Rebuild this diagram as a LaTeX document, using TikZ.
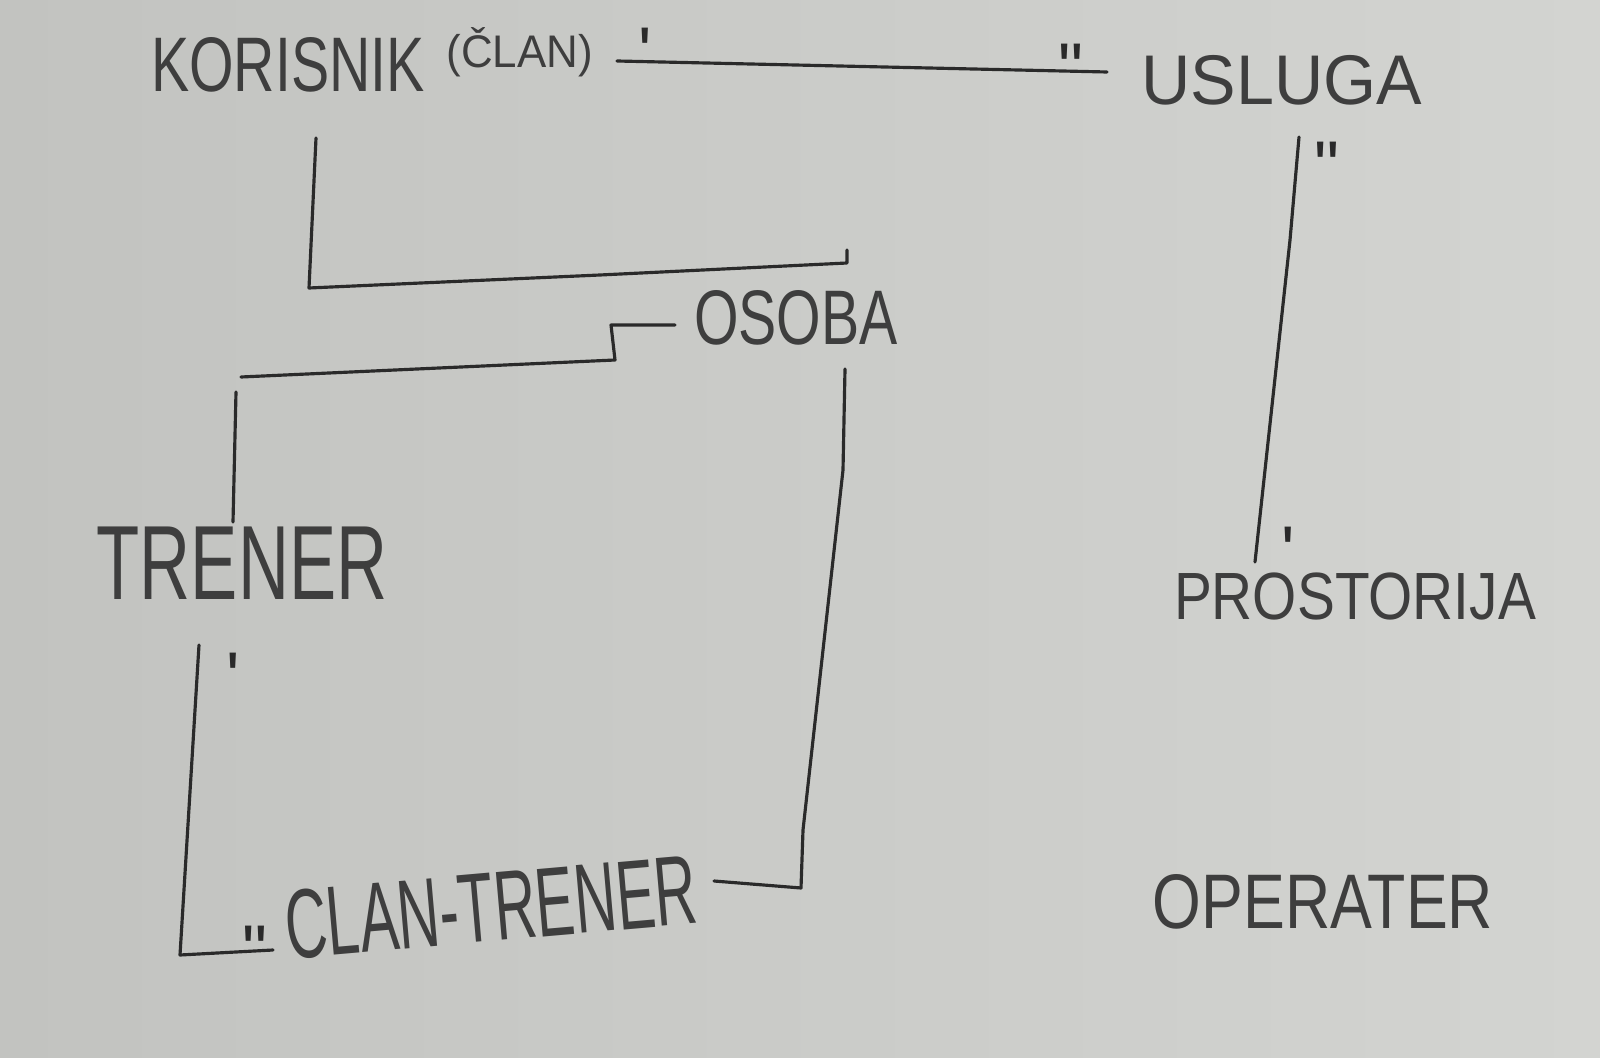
\documentclass[tikz,border=0pt]{standalone}
\usepackage{fontspec}
\usepackage{graphicx}
\setmainfont{Liberation Sans}
\newfontfamily\markfont{Liberation Sans}

\definecolor{paperL}{RGB}{194,195,192}
\definecolor{paperR}{RGB}{211,212,209}
\definecolor{ink}{RGB}{42,42,42}
\definecolor{pen}{RGB}{62,62,62}

\newcommand{\hw}[2]{\scalebox{#1}[1]{#2}}
\newcommand{\mk}[1]{\raisebox{-0.47em}[0.27em][0pt]{#1}}

\tikzset{
	entity/.style={anchor=base, inner sep=0pt, text=pen, font=\fontsize{22}{22}\selectfont},
	tick/.style={inner sep=0pt, text=ink, font=\markfont\fontsize{20}{20}\selectfont},
	link/.style={draw=ink, line width=0.9pt, line join=round, line cap=round}
}

\begin{document}
\begin{tikzpicture}[x=0.01cm, y=-0.01cm]
	\shade[left color=paperL, right color=paperR] (0,0) rectangle (1600,1058);
	\useasboundingbox (0,0) rectangle (1600,1058);

	% entities
	\node[entity] (korisnik) at (372,92) {\hw{0.74}{KORISNIK}\hspace{0.22cm}\raisebox{0.24cm}{\fontsize{13}{13}\selectfont\hw{0.96}{(ČLAN)}}};
	\node[entity, font=\fontsize{20}{20}\selectfont] (usluga) at (1282,105) {\hw{0.97}{USLUGA}};
	\node[entity] (osoba) at (796,345) {\hw{0.74}{OSOBA}};
	\node[entity, font=\fontsize{30}{30}\selectfont] (trener) at (242,600) {\hw{0.67}{TRENER}};
	\node[entity, font=\fontsize{19}{19}\selectfont] (prostorija) at (1355,619) {\hw{0.85}{PROSTORIJA}};
	\node[entity, font=\fontsize{28}{28}\selectfont, rotate=5] (clantrener) at (494,941) {\hw{0.59}{CLAN-TRENER}};
	\node[entity] (operater) at (1323,928) {\hw{0.81}{OPERATER}};

	% connectors
	\draw[link] ([shift={(245,-31)}]korisnik.base) -- ([shift={(-175,-33)}]usluga.base);
	\draw[link] ([shift={(17,32)}]usluga.base) -- ++(-9,103) -- ([shift={(-100,-57)}]prostorija.base);
	\draw[link] ([shift={(-56,46)}]korisnik.base) -- ++(-7,150) -- ++(291,-13)
		-- ([shift={(51,-82)}]osoba.base) -- ([shift={(51,-95)}]osoba.base);
	\draw[link] ([shift={(-121,-20)}]osoba.base) -- ++(-64,0) -- ++(4,35) -- ++(-374,17)
		([shift={(-6,-208)}]trener.base) -- ([shift={(-9,-78)}]trener.base);
	\draw[link] ([shift={(-43,45)}]trener.base) -- ++(-19,310) -- ([shift={(-221,9)}]clantrener.base);
	\draw[link] ([shift={(49,24)}]osoba.base) -- ++(-2,101) -- ++(-40,360) -- ++(-2,58)
		-- ([shift={(220,-60)}]clantrener.base);

	% multiplicities
	\node[tick] (t1) at (645,34) {\mk{'}};
	\node[tick] (t2) at (1071,50) {\mk{"}};
	\node[tick] (t3) at (1327,148) {\mk{"}};
	\node[tick] (t4) at (1288,533) {\mk{'}};
	\node[tick] (t5) at (233,659) {\mk{'}};
	\node[tick] (t6) at (255,932) {\mk{"}};
\end{tikzpicture}
\end{document}
